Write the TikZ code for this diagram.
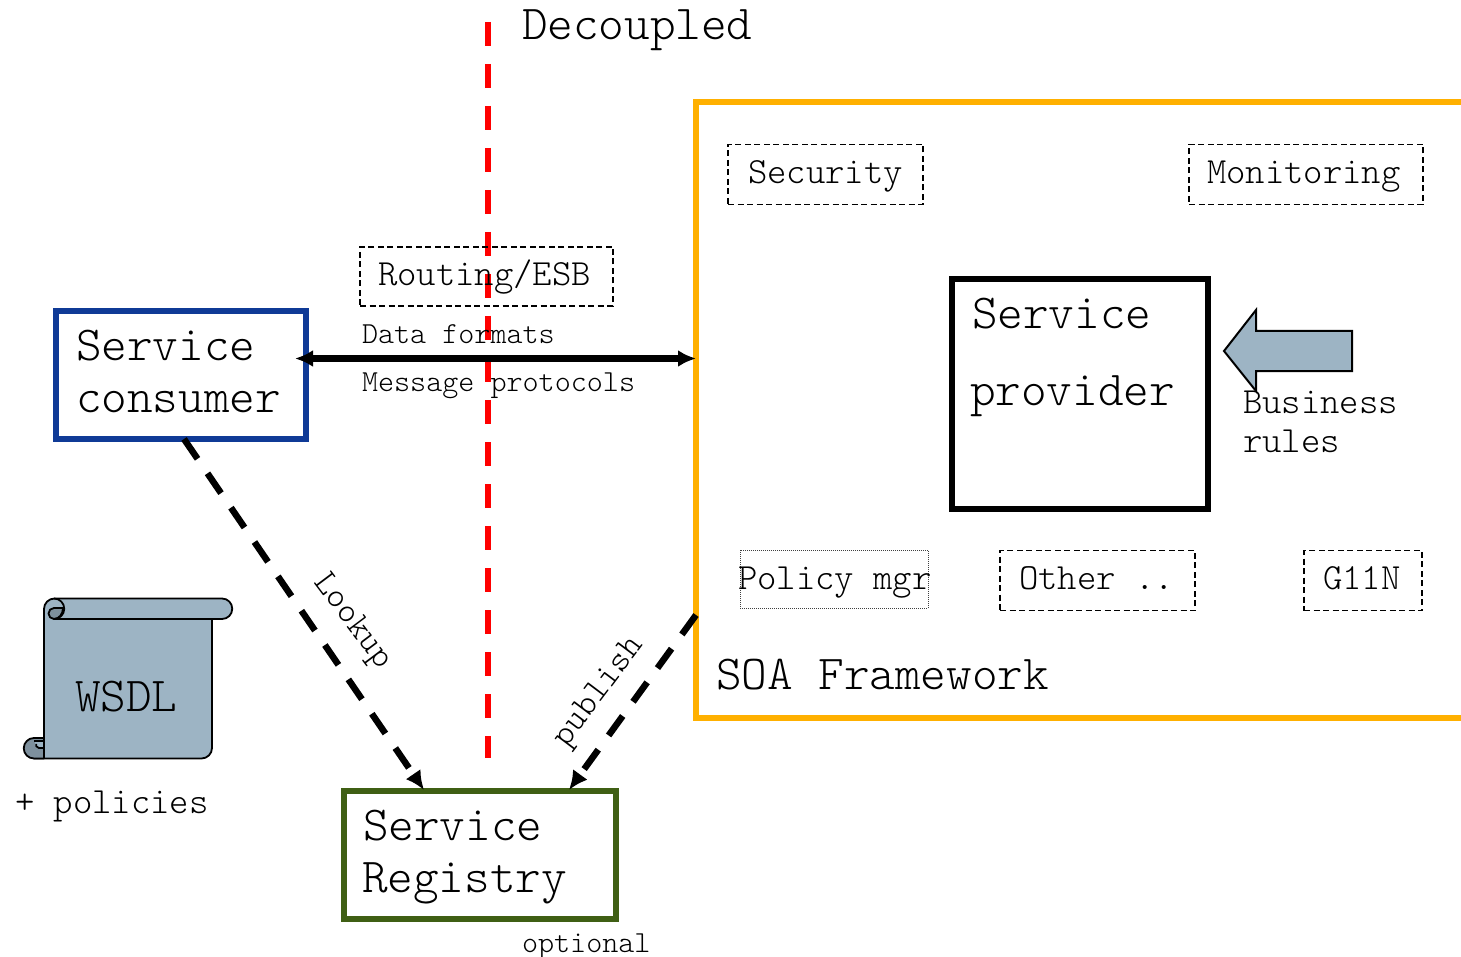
\documentclass[tikz,border=0pt]{standalone}
\usepackage{fontspec}
\setmonofont{Latin Modern Mono Light}
\usetikzlibrary{arrows.meta}
\definecolor{scrollfill}{HTML}{9DB4C4}
\definecolor{scrolldark}{HTML}{7E909D}
\definecolor{framegold}{HTML}{FFB000}
\definecolor{consblue}{HTML}{0F3A96}
\definecolor{reggreen}{HTML}{3F5F14}
\newcommand{\fs}[1]{\fontsize{#1}{#1}\selectfont\ttfamily}
\tikzset{
  x=1pt,y=-1pt,
  box/.style={draw,rectangle,anchor=north west,inner sep=0pt,outer sep=0pt},
  dashbox/.style={box,line width=1.9pt,dash pattern=on 6pt off 3.5pt},
  lab/.style={anchor=base west,inner sep=0pt,outer sep=0pt,text=black},
  big/.style={lab,font=\fs{48.8}},
  mid/.style={lab,font=\fs{36.9}},
  small/.style={lab,font=\fs{30.6}},
  thickdash/.style={line width=6.5pt,dash pattern=on 24pt off 17.6pt},
  tip/.style={-{Latex[length=19pt,width=18pt]}},
  scrollline/.style={line width=1.8pt,line join=round},
}
\begin{document}
\begin{tikzpicture}
\useasboundingbox (0,0) rectangle (1461,957);
% red divider
\coordinate (redtop) at (488,22);
\coordinate (redbot) at (488,758);
\draw[red,line width=6pt,dash pattern=on 24pt off 18pt] (redtop) -- (redbot);
\node[big] (decoupled) at (522,40) {Decoupled};

% framework
\draw[framegold,line width=6pt] (1470,102.5) -- (696,102.5) -- (696,718) -- (1470,718);
\coordinate (framelow) at (696,615);
\node[big] (soa) at (716,689) {SOA Framework};

% dashed boxes
\node[dashbox,minimum width=195pt,minimum height=60pt] (security) at (728,144.5) {};
\node[mid] (securityt) at (748,184) {Security};
\node[dashbox,minimum width=234pt,minimum height=60pt] (monitoring) at (1189,144.5) {};
\node[mid] (monitoringt) at (1207,184) {Monitoring};
\node[dashbox,minimum width=253pt,minimum height=59pt] (routing) at (360,247) {};
\node[mid] (routingt) at (378,286) {Routing/ESB};
\node[box,draw=black!75,line width=1pt,densely dotted,minimum width=188pt,minimum height=58pt] (policy) at (740,550) {};
\node[mid] (policyt) at (738,589) {Policy mgr};
\node[dashbox,minimum width=195pt,minimum height=60pt] (other) at (1000,550.5) {};
\node[mid] (othert) at (1019,589) {Other ..};
\node[dashbox,minimum width=118pt,minimum height=60pt] (g11n) at (1304,550.5) {};
\node[mid] (g11nt) at (1323,589) {G11N};

% provider
\node[box,line width=6pt,minimum width=256pt,minimum height=230pt] (provider) at (952,279) {};
\node[big] (providert1) at (972,329) {Service};
\node[big] (providert2) at (970,405) {provider};

% business arrow
\draw[fill=scrollfill,line width=2pt,line join=miter] (1224,351) -- (1256,310) -- (1256,331) -- (1352,331) -- (1352,371) -- (1256,371) -- (1256,391) -- cycle;
\node[mid] (bus1) at (1243,413) {Business};
\node[mid] (bus2) at (1243,452) {rules};

% consumer
\node[box,draw=consblue,line width=6pt,minimum width=250pt,minimum height=128pt] (consumer) at (56,311) {};
\node[big] (consumert1) at (76,360) {Service};
\node[big] (consumert2) at (76,412) {consumer};

% registry
\node[box,draw=reggreen,line width=6pt,minimum width=272pt,minimum height=128pt] (registry) at (344,791) {};
\node[big] (registryt1) at (363,840) {Service};
\node[big] (registryt2) at (362,892) {Registry};
\node[small] (optional) at (522,952) {optional};

% connectors
\coordinate (consright) at (295,358.5);
\coordinate (frameleftb) at (696,358.5);
\draw[line width=6pt,{Latex[length=18pt,width=17pt]}-{Latex[length=18pt,width=17pt]}] (consright) -- (frameleftb);
\node[small] (dataf) at (362,344) {Data formats};
\node[small] (msgp) at (362,391) {Message protocols};

\coordinate (consbot) at (184,439);
\coordinate (regtopl) at (424,790);
\coordinate (regtopr) at (569,790);
\draw[thickdash,tip] (consbot) -- (regtopl);
\draw[thickdash,tip] (framelow) -- (regtopr);
\node[lab,font=\fs{35},rotate=-53] (lookup) at (313,582) {Lookup};
\node[lab,font=\fs{35},rotate=53] (publish) at (566,748) {publish};

% scroll: page with top and bottom rolls
\draw[fill=scrollfill,scrollline]
  (44,748) -- (44,609) arc[start angle=180,end angle=90,radius=10.5pt]
  -- (222,598.5) arc[start angle=90,end angle=-90,radius=10.25pt]
  -- (212,619) -- (212,748) arc[start angle=0,end angle=-90,radius=10.5pt]
  -- (34,758.5) -- (44,748) -- cycle;
% top-left curl
\draw[fill=scrolldark,scrollline]
  (54,619) arc[start angle=270,end angle=180,radius=5.5pt]
  arc[start angle=180,end angle=90,radius=5.5pt]
  -- (63,608) arc[start angle=0,end angle=-90,x radius=9pt,y radius=11pt] -- cycle;
\draw[scrollline] (54,598.5) arc[start angle=90,end angle=-90,radius=10.25pt] -- (212,619);
% bottom-left roll
\draw[fill=scrolldark,scrollline]
  (34,738) arc[start angle=90,end angle=270,radius=10.25pt] -- (44,758.5) -- (44,738) -- cycle;
\draw[fill=scrollfill,draw=none] (35,741) -- (44,741) -- (44,748) -- (36,748) -- cycle;
\draw[scrollline] (34,741) -- (44,741) (44,738) -- (44,748) -- (39,748)
  arc[start angle=-90,end angle=-200,radius=3pt];
\node[big] (wsdl) at (75,711) {WSDL};
\node[mid] (policies) at (15,813) {+ policies};
\end{tikzpicture}
\end{document}
